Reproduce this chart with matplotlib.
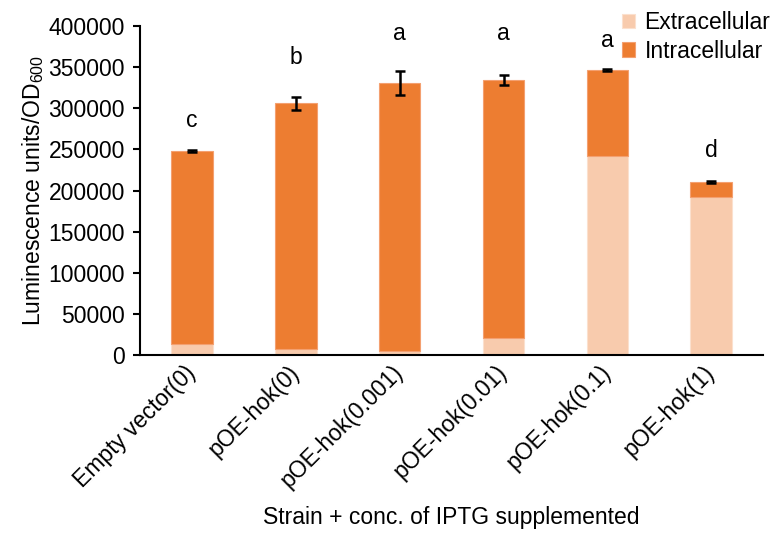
import matplotlib
matplotlib.use('Agg')
import matplotlib.pyplot as plt
import numpy as np

plt.rcParams['font.family'] = ['Liberation Sans', 'DejaVu Sans']

strains = ['Empty vector(0)', 'pOE-hok(0)', 'pOE-hok(0.001)',
           'pOE-hok(0.01)', 'pOE-hok(0.1)', 'pOE-hok(1)']
extracellular = [14200, 7300, 5700, 20300, 241800, 192000]
intracellular = [233700, 298500, 324800, 313800, 104500, 18600]
errors = [1000, 8000, 14300, 5700, 1500, 1500]
letters = ['c', 'b', 'a', 'a', 'a', 'd']
letter_heights = [285500, 361700, 390900, 390900, 382700, 249000]

light = '#F8CBAD'
dark = '#ED7D31'
fs = 16.5

fig = plt.figure(figsize=(7.74, 5.39), dpi=100)
ax = fig.add_axes([0.181, 0.341, 0.805, 0.611])

x = np.arange(len(strains))
totals = np.array(extracellular) + np.array(intracellular)
ax.bar(x, extracellular, width=0.4, color=light, edgecolor='#FBE0CE', linewidth=0.8,
       label='Extracellular')
ax.bar(x, intracellular, width=0.4, bottom=extracellular, color=dark,
       edgecolor='#F4A070', linewidth=0.8, label='Intracellular')
ax.errorbar(x, totals, yerr=errors, fmt='none', ecolor='black', elinewidth=1.8,
            capsize=3.5, capthick=1.8)

for xi, lab, yl in zip(x, letters, letter_heights):
    ax.text(xi, yl, lab, ha='center', va='center', fontsize=fs)

ax.set_xlim(-0.5, len(strains) - 0.5)
ax.set_ylim(0, 400000)
ax.set_yticks(np.arange(0, 400001, 50000))
ax.tick_params(axis='y', labelsize=fs, length=5, width=1.5, direction='out', pad=6)
ax.tick_params(axis='x', length=0, labelsize=fs, pad=10)
ax.set_xticks(x)
ax.set_xticklabels(strains, rotation=45, ha='right', va='center',
                   rotation_mode='anchor')
for s in ['top', 'right']:
    ax.spines[s].set_visible(False)
for s in ['left', 'bottom']:
    ax.spines[s].set_linewidth(1.5)

ax.set_ylabel('Luminescence units/OD$_{\\mathregular{600}}$', fontsize=fs, labelpad=2)
ax.set_xlabel('Strain + conc. of IPTG supplemented', fontsize=fs, labelpad=10)

fig.legend(loc='upper right', bbox_to_anchor=(1.022, 1.018), frameon=False, fontsize=fs,
           handlelength=0.6, handleheight=0.6, handletextpad=0.4, labelspacing=0.25)

fig.savefig('out.png', dpi=100)
